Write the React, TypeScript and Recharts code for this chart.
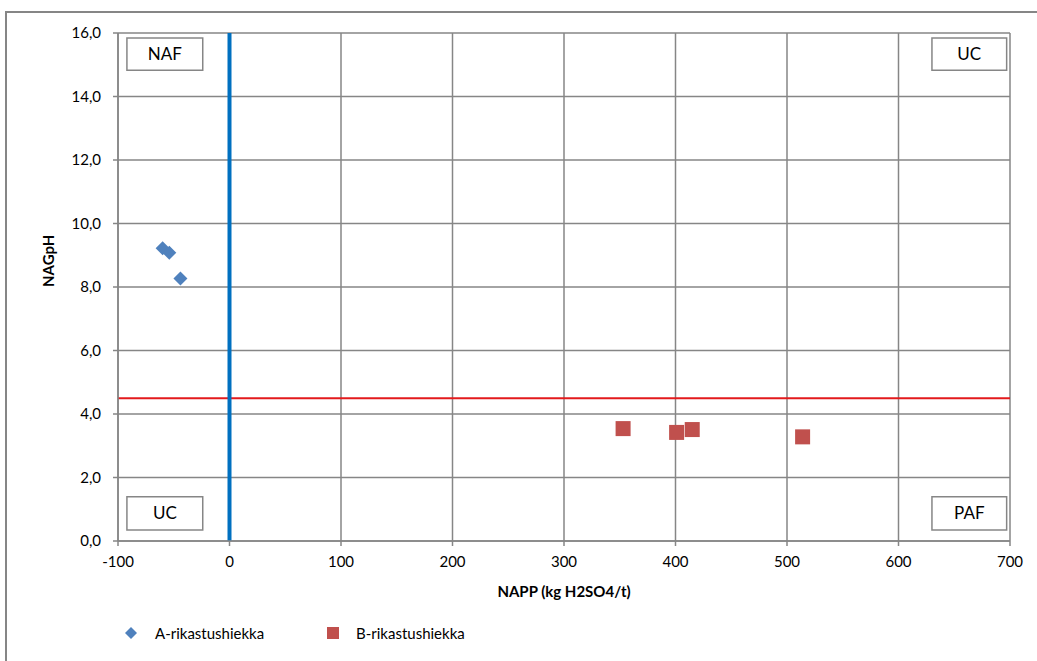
import React from 'react';
import {
  ScatterChart,
  Scatter,
  XAxis,
  YAxis,
  CartesianGrid,
  ReferenceLine,
  ReferenceArea,
} from 'recharts';

// NAPP (x) vs NAGpH (y)
const aNapp = [-60, -54, -44];
const aNag = [9.22, 9.08, 8.27];
const bNapp = [353, 401, 415, 514];
const bNag = [3.54, 3.42, 3.51, 3.28];

const xTicks = [-100, 0, 100, 200, 300, 400, 500, 600, 700];
const yTicks = [0, 2, 4, 6, 8, 10, 12, 14, 16];

const seriesA = aNapp.map((x, i) => ({ x, y: aNag[i] }));
const seriesB = bNapp.map((x, i) => ({ x, y: bNag[i] }));

const FONT = 'Lato, "Liberation Sans", sans-serif';
const GRID = '#868686';

const Diamond = (props: any) => {
  const { cx, cy } = props;
  const r = 7;
  return (
    <polygon
      points={`${cx},${cy - r} ${cx + r},${cy} ${cx},${cy + r} ${cx - r},${cy}`}
      fill="#4F81BD"
    />
  );
};

const Square = (props: any) => {
  const { cx, cy } = props;
  const s = 15;
  return <rect x={cx - s / 2} y={cy - s / 2} width={s} height={s} fill="#C0504D" />;
};

const boxLabel = (text: string) => ({
  value: text,
  position: 'center' as const,
  fill: '#000',
  fontSize: 17,
  fontFamily: FONT,
});

const App: React.FC = () => {
  return (
    <div style={{ position: 'absolute', left: 0, top: 0, width: 1037, height: 661, background: '#fff', overflow: 'hidden', fontFamily: FONT }}>
      <div style={{ position: 'absolute', left: 5, top: 11, width: 1050, height: 680, border: '2px solid #868686', boxSizing: 'border-box' }} />
      <div style={{ position: 'absolute', left: 0, top: 0 }}>
        <ScatterChart width={1037} height={661} margin={{ top: 33, right: 27, bottom: 80, left: 0 }}>
          <CartesianGrid stroke={GRID} strokeWidth={1.5} />
          <XAxis
            type="number"
            dataKey="x"
            domain={[-100, 700]}
            ticks={xTicks}
            allowDataOverflow
            height={40}
            stroke={GRID}
            strokeWidth={1.5}
            tickSize={5}
            tickMargin={10}
            tick={{ fill: '#000', fontSize: 15, fontFamily: FONT }}
            label={{ value: 'NAPP (kg H2SO4/t)', position: 'insideBottom', offset: -16, fill: '#000', fontSize: 15, fontWeight: 'bold', fontFamily: FONT }}
          />
          <YAxis
            type="number"
            dataKey="y"
            domain={[0, 16]}
            ticks={yTicks}
            allowDataOverflow
            width={118}
            stroke={GRID}
            strokeWidth={1.5}
            tickSize={5}
            tickMargin={12}
            tickFormatter={(v: number) => v.toFixed(1).replace('.', ',')}
            tick={{ fill: '#000', fontSize: 15, fontFamily: FONT }}
            label={{ value: 'NAGpH', angle: -90, position: 'insideLeft', offset: 49, fill: '#000', fontSize: 15, fontWeight: 'bold', fontFamily: FONT }}
          />
          <ReferenceArea x1={-92} x2={-24} y1={14.83} y2={15.84} fill="#fff" fillOpacity={1} stroke={GRID} strokeWidth={1.5} label={boxLabel('NAF')} ifOverflow="visible" />
          <ReferenceArea x1={630} x2={697} y1={14.83} y2={15.84} fill="#fff" fillOpacity={1} stroke={GRID} strokeWidth={1.5} label={boxLabel('UC')} ifOverflow="visible" />
          <ReferenceArea x1={-92} x2={-24} y1={0.35} y2={1.39} fill="#fff" fillOpacity={1} stroke={GRID} strokeWidth={1.5} label={boxLabel('UC')} ifOverflow="visible" />
          <ReferenceArea x1={630} x2={697} y1={0.35} y2={1.39} fill="#fff" fillOpacity={1} stroke={GRID} strokeWidth={1.5} label={boxLabel('PAF')} ifOverflow="visible" />
          <ReferenceLine y={4.5} stroke="#E31A1C" strokeWidth={2} />
          <ReferenceLine x={0} stroke="#0070C0" strokeWidth={4} />
          <Scatter name="A-rikastushiekka" data={seriesA} shape={Diamond} isAnimationActive={false} />
          <Scatter name="B-rikastushiekka" data={seriesB} shape={Square} isAnimationActive={false} />
        </ScatterChart>
      </div>
      <div style={{ position: 'absolute', top: 624, left: 123, display: 'flex', alignItems: 'center', fontSize: 15, color: '#000' }}>
        <svg width={16} height={16} style={{ marginRight: 16 }}>
          <polygon points="8,2 14,8 8,14 2,8" fill="#4F81BD" />
        </svg>
        <span style={{ width: 154 }}>A-rikastushiekka</span>
        <svg width={16} height={16} style={{ marginRight: 15, marginLeft: 16 }}>
          <rect x={2} y={2} width={12} height={12} fill="#C0504D" />
        </svg>
        <span>B-rikastushiekka</span>
      </div>
    </div>
  );
};

export default App;
